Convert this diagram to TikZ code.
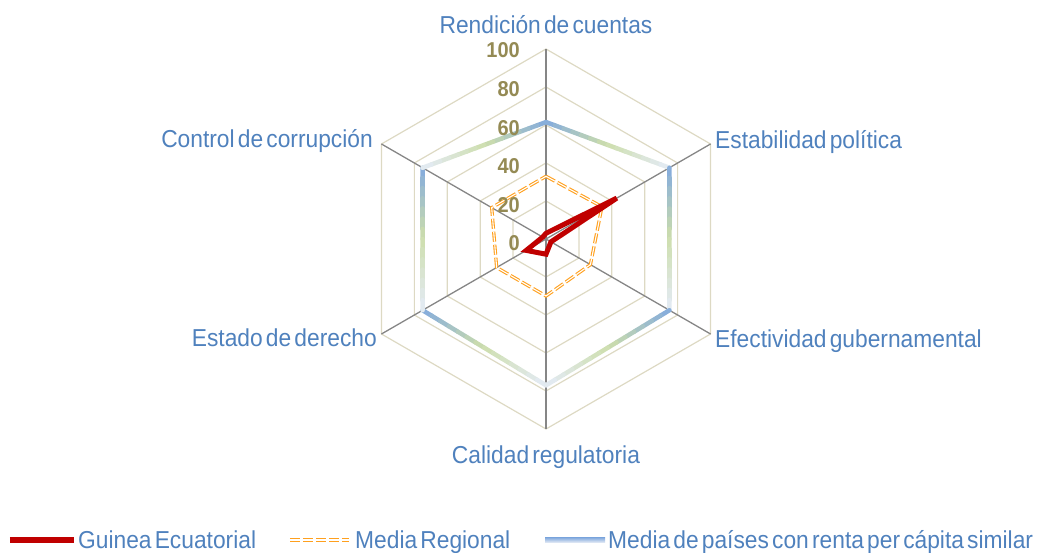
\documentclass[tikz,border=0pt]{standalone}
\usepackage{fontspec}
\setmainfont{Liberation Sans}[WordSpace=0.5, FakeStretch=0.93]
\usetikzlibrary{calc}
\definecolor{gridc}{RGB}{221,217,195}
\definecolor{spokec}{RGB}{134,134,134}
\definecolor{labblue}{RGB}{79,129,189}
\definecolor{numc}{RGB}{148,138,84}
\definecolor{redc}{RGB}{192,0,0}
\definecolor{orac}{RGB}{255,160,30}
\definecolor{gtop}{RGB}{130,170,222}
\definecolor{gmid}{RGB}{205,222,172}
\definecolor{gbot}{RGB}{228,235,245}
\tikzset{
  gridline/.style={draw=gridc, line width=1.2pt},
  spoke/.style={draw=spokec, line width=1.3pt},
  gradline/.style={line width=4.5pt, line cap=round},
  redline/.style={draw=redc, line width=5pt, line join=miter},
  oraline/.style={draw=orac, line width=1.1pt, double=white, double distance=1.1pt, dash pattern=on 10pt off 3pt, line join=miter},
  axlab/.style={text=labblue, inner sep=0pt, font=\fontsize{24.5}{28}\selectfont},
  numlab/.style={text=numc, inner sep=0pt, anchor=east, font=\fontsize{21.5}{24}\selectfont\bfseries},
}
\newcommand{\gradseg}[2]{%
  \foreach \i in {0,...,13}{%
    \pgfmathsetmacro{\ta}{\i/14}%
    \pgfmathsetmacro{\tb}{(\i+1)/14}%
    \pgfmathsetmacro{\tm}{(\i+0.5)/14}%
    \ifdim\tm pt<0.5pt
      \pgfmathtruncatemacro{\pp}{100*(1-2*\tm)}%
      \colorlet{segc}{gtop!\pp!gmid}%
    \else
      \pgfmathtruncatemacro{\pp}{100*(2-2*\tm)}%
      \colorlet{segc}{gmid!\pp!gbot}%
    \fi
    \draw[gradline, draw=segc] ($(#1)!\ta!(#2)$) -- ($(#1)!\tb!(#2)$);
  }%
}
\begin{document}
\begin{tikzpicture}[x=1pt,y=1pt]
\useasboundingbox (-546,-314) rectangle (497,239);
\coordinate (O) at (0,0);
% grid hexagons
\foreach \r in {38,76,114,152,190}{
  \draw[gridline] (90:\r) -- (30:\r) -- (-30:\r) -- (-90:\r) -- (210:\r) -- (150:\r) -- cycle;
}
% spokes
\foreach \a/\n in {90/ren,30/est,-30/efe,-90/cal,210/esd,150/con}{
  \coordinate (\n) at (\a:190);
  \draw[spoke] (O) -- (\n);
}
% similar income series (vertical gradient per segment)
\coordinate (g1) at (90:116.9);
\coordinate (g2) at (30:142.5);
\coordinate (g3) at (-30:142.5);
\coordinate (g4) at (-90:146.3);
\coordinate (g5) at (210:142.5);
\coordinate (g6) at (150:142.5);
\gradseg{g1}{g2}
\gradseg{g2}{g3}
\gradseg{g3}{g4}
\gradseg{g5}{g4}
\gradseg{g6}{g5}
\gradseg{g1}{g6}
% regional average
\coordinate (o1) at (90:62.7);
\coordinate (o2) at (30:64.6);
\coordinate (o3) at (-30:51.3);
\coordinate (o4) at (-90:57);
\coordinate (o5) at (210:57);
\coordinate (o6) at (150:62.7);
\draw[oraline] (o1) -- (o2) -- (o3) -- (o4) -- (o5) -- (o6) -- cycle;
% Guinea Ecuatorial
\coordinate (r1) at (90:5.7);
\coordinate (r2) at (30:81.7);
\coordinate (r3) at (-30:5.7);
\coordinate (r4) at (-90:15.2);
\coordinate (r5) at (210:22.8);
\coordinate (r6) at (150:3.8);
\draw[redline] (r1) -- (r2) -- (r3) -- (r4) -- (r5) -- (r6) -- cycle;
% axis numbers
\foreach \k/\v in {0/0,1/20,2/40,3/60,4/80,5/100}{
  \node[numlab] (n\v) at (-26,{-4.5+38.6*\k}) {\v};
}
% axis labels
\node[axlab, anchor=base] (lren) at (0,205) {Rendición de cuentas};
\node[axlab, anchor=base west] (lest) at (169,90) {Estabilidad política};
\node[axlab, anchor=base west] (lefe) at (169,-109) {Efectividad gubernamental};
\node[axlab, anchor=base] (lcal) at (0,-224) {Calidad regulatoria};
\node[axlab, anchor=base east] (lesd) at (-169,-108) {Estado de derecho};
\node[axlab, anchor=base east] (lcon) at (-173,91) {Control de corrupción};
% legend
\coordinate (la1) at (-536,-301);
\coordinate (la2) at (-472,-301);
\draw[draw=redc, line width=6pt] (la1) -- (la2);
\node[axlab, anchor=base west] (lg1) at (-468,-309) {Guinea Ecuatorial};
\coordinate (lb1) at (-256,-301);
\coordinate (lb2) at (-197,-301);
\draw[oraline] (lb1) -- (lb2);
\node[axlab, anchor=base west] (lg2) at (-191,-309) {Media Regional};
\shade[top color=gtop, middle color=gmid, bottom color=gbot] (-1,-298.5) rectangle (59,-303.5);
\node[axlab, anchor=base west] (lg3) at (62,-309) {Media de países con renta per cápita similar};
\end{tikzpicture}
\end{document}
